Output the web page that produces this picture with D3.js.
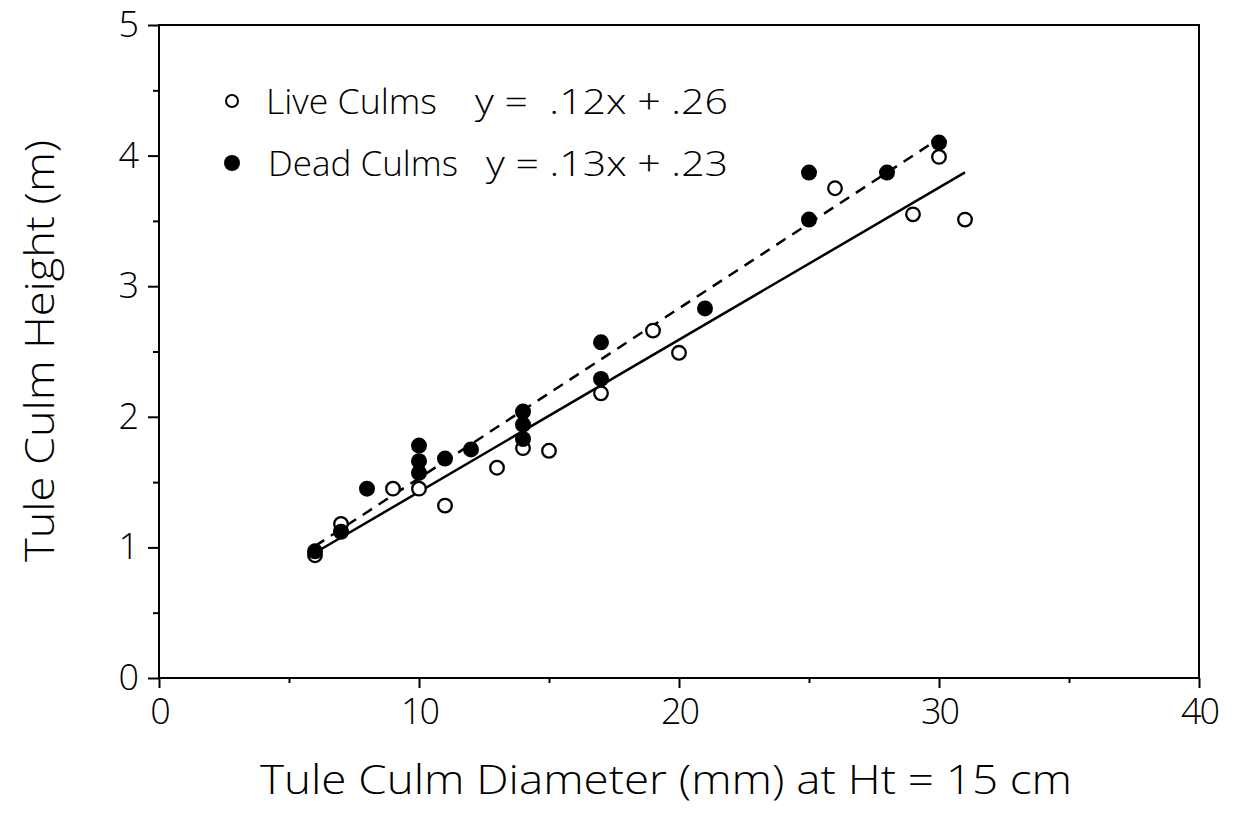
<!DOCTYPE html>
<html><head><meta charset="utf-8">
<script src="https://cdn.jsdelivr.net/npm/d3@7"></script>
<style>
html,body{margin:0;padding:0;background:#fff;}
text{font-family:"Open Sans",Lato,"DejaVu Sans",sans-serif;font-weight:300;fill:#000;}
</style></head>
<body>
<svg id="chart" width="1234" height="821"></svg>
<script>
// Data
const liveX = [6, 7, 9, 10, 11, 13, 14, 15, 17, 19, 20, 26, 29, 30, 31];
const liveY = [0.94, 1.18, 1.45, 1.45, 1.32, 1.61, 1.76, 1.74, 2.18, 2.66, 2.49, 3.75, 3.55, 3.99, 3.51];
const deadX = [6, 7, 8, 10, 10, 10, 11, 12, 14, 14, 14, 17, 17, 21, 25, 25, 28, 30];
const deadY = [0.97, 1.12, 1.45, 1.78, 1.66, 1.57, 1.68, 1.75, 2.04, 1.94, 1.83, 2.57, 2.29, 2.83, 3.87, 3.51, 3.87, 4.10];
// fit lines as drawn (x range, slope, intercept)
const liveFit = {x0: 6, x1: 31, slope: 0.1165, intercept: 0.26};
const deadFit = {x0: 6, x1: 30, slope: 0.13, intercept: 0.23};
const xTicks = [0, 10, 20, 30, 40];
const xMinor = [5, 15, 25, 35];
const yTicks = [0, 1, 2, 3, 4, 5];
const yMinor = [0.5, 1.5, 2.5, 3.5, 4.5];
const legendLabels = ["Live Culms", "Dead Culms"];
const legendEqs = ["y =  .12x + .26", "y = .13x + .23"];

const svg = d3.select("#chart");
const L = 159, R = 1199, T = 25, B = 678;
const x = d3.scaleLinear().domain([0, 40]).range([L, R]);
const y = d3.scaleLinear().domain([0, 5]).range([B, T]);

// frame
svg.append("rect").attr("x", L).attr("y", T).attr("width", R - L).attr("height", B - T)
  .attr("fill", "none").attr("stroke", "#000").attr("stroke-width", 2);

// x axis
const xAxis = svg.append("g").attr("transform", `translate(0,${B})`)
  .call(d3.axisBottom(x).tickValues(xTicks).tickSize(10).tickPadding(10).tickFormat(d3.format("d")));
const xAxisMinor = svg.append("g").attr("transform", `translate(0,${B})`)
  .call(d3.axisBottom(x).tickValues(xMinor).tickSize(5).tickFormat(""));
// y axis
const yAxis = svg.append("g").attr("transform", `translate(${L},0)`)
  .call(d3.axisLeft(y).tickValues(yTicks).tickSize(11).tickPadding(11).tickFormat(d3.format("d")));
const yAxisMinor = svg.append("g").attr("transform", `translate(${L},0)`)
  .call(d3.axisLeft(y).tickValues(yMinor).tickSize(6).tickFormat(""));
[xAxis, xAxisMinor, yAxis, yAxisMinor].forEach(g => {
  g.select(".domain").remove();
  g.selectAll("line").attr("stroke", "#000").attr("stroke-width", 2);
  g.selectAll("text").style("font-size", "36px").style("font-family", '"Open Sans",Lato,sans-serif')
    .style("font-weight", 300).attr("letter-spacing", "-2");
});

// fit lines
function fitLine(f, dash) {
  svg.append("line")
    .attr("x1", x(f.x0)).attr("y1", y(f.slope * f.x0 + f.intercept))
    .attr("x2", x(f.x1)).attr("y2", y(f.slope * f.x1 + f.intercept))
    .attr("stroke", "#000").attr("stroke-width", 2.5)
    .attr("stroke-dasharray", dash);
}
fitLine(liveFit, null);
fitLine(deadFit, "11,8");

// points
svg.append("g").selectAll("circle").data(liveX.map((d, i) => [d, liveY[i]])).join("circle")
  .attr("cx", d => x(d[0])).attr("cy", d => y(d[1])).attr("r", 6.8)
  .attr("fill", "#fff").attr("stroke", "#000").attr("stroke-width", 2.3);
svg.append("g").selectAll("circle").data(deadX.map((d, i) => [d, deadY[i]])).join("circle")
  .attr("cx", d => x(d[0])).attr("cy", d => y(d[1])).attr("r", 8)
  .attr("fill", "#000");

// legend
const leg = svg.append("g");
leg.append("circle").attr("cx", 232).attr("cy", 101).attr("r", 6).attr("fill", "#fff").attr("stroke", "#000").attr("stroke-width", 2);
leg.append("circle").attr("cx", 232).attr("cy", 163).attr("r", 8).attr("fill", "#000");
function legText(t, x0, y0, len) {
  leg.append("text").attr("x", x0).attr("y", y0).style("font-size", "35px")
    .style("white-space", "pre").attr("textLength", len).attr("lengthAdjust", "spacingAndGlyphs").text(t);
}
legText(legendLabels[0], 266, 114, 171);
legText(legendLabels[1], 268, 176, 190);
legText(legendEqs[0], 475, 114, 253);
legText(legendEqs[1], 486, 176, 242);

// axis titles
svg.append("text").attr("x", 260).attr("y", 794)
  .style("font-size", "40px").attr("textLength", 812).attr("lengthAdjust", "spacingAndGlyphs")
  .text("Tule Culm Diameter (mm) at Ht = 15 cm");
svg.append("text").attr("transform", "translate(54,562) rotate(-90)")
  .style("font-size", "40px").attr("textLength", 422).attr("lengthAdjust", "spacingAndGlyphs")
  .text("Tule Culm Height (m)");
</script>
</body></html>
